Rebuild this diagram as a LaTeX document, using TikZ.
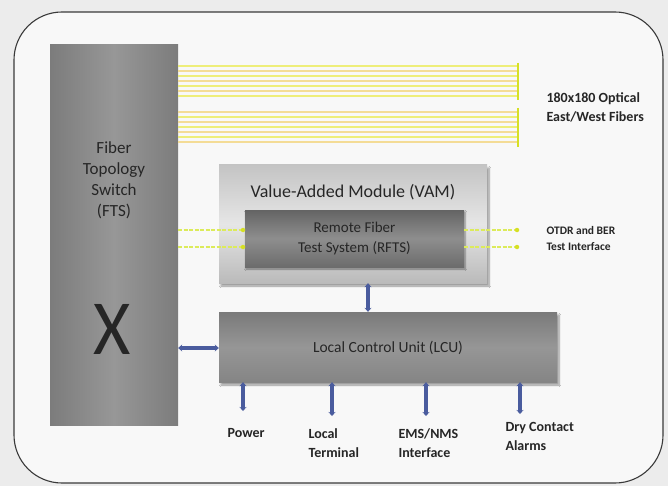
\documentclass[tikz,border=0pt]{standalone}
\usepackage{fontspec}
\setmainfont{Carlito}
\usetikzlibrary{arrows.meta,shadows,shadows.blur}
\definecolor{pagebg}{HTML}{ECECEC}
\definecolor{panelbg}{HTML}{F8F8F8}
\definecolor{frame}{HTML}{3A3A3A}
\definecolor{txt}{HTML}{262626}
\definecolor{linkblue}{HTML}{4A5C9E}
\definecolor{fiberA}{HTML}{EEEE7A}
\definecolor{fiberB}{HTML}{F4DC96}
\definecolor{fiberbar}{HTML}{D6E024}
\definecolor{testline}{HTML}{DCEB5A}
\definecolor{ftsedge}{HTML}{7C7C7C}
\definecolor{ftsmid}{HTML}{979797}
\definecolor{vamedge}{HTML}{C4C4C4}
\definecolor{vammid}{HTML}{E6E6E6}
\definecolor{rftsedge}{HTML}{646464}
\definecolor{rftsmid}{HTML}{8E8E8E}
\definecolor{lcutop}{HTML}{7A7A7A}
\definecolor{lcumid}{HTML}{969696}
\definecolor{lcubot}{HTML}{858585}
\tikzset{
  panelbox/.style={rectangle, draw=none, inner sep=0pt},
  boxshadow/.style={blur shadow={shadow blur steps=8, shadow xshift=2pt, shadow yshift=-3pt}},
  boxtext/.style={font=\fontsize{#1}{#1}\selectfont, text=txt, align=center},
  sidetext/.style={font=\bfseries\fontsize{#1}{#1}\selectfont, text=txt, align=left, anchor=west},
  bus/.style={line width=3.2pt, draw=linkblue, {Stealth[length=4pt,width=7pt]}-{Stealth[length=4pt,width=7pt]}},
  fiber/.style={line width=1.3pt},
  testlink/.style={draw=testline, line width=1.3pt, dash pattern=on 4pt off 1.5pt},
  tipdot/.style={circle, fill=fiberbar, inner sep=0pt, minimum size=4.5pt}
}
\begin{document}
\begin{tikzpicture}[x=1pt,y=-1pt]
\useasboundingbox (0,0) rectangle (668,486);
\fill[pagebg] (0,0) rectangle (668,486);
% outer panel
\draw[frame, line width=1.1pt, fill=panelbg, rounded corners=48pt] (14,12) rectangle (663,483);

% Fiber Topology Switch
\node[panelbox, minimum width=128pt, minimum height=380pt, left color=ftsedge, right color=ftsedge, middle color=ftsmid] (fts) at (114,235) {};
\node[boxtext=17] (ftslabel) at (114,180) {Fiber\\[4pt]Topology\\[4pt]Switch\\[4pt](FTS)};
\node[text=black!85, inner sep=0pt] (xsw) at (112,329) {\scalebox{0.92}[1]{\fontsize{78}{78}\selectfont X}};

% East/West optical fibers
\coordinate (fibend) at (518,0);
\foreach \y [count=\i] in {66,71,76,81,86,91,96, 112,117,122,127,132,137,142}{
  \ifodd\i \def\fibcol{fiberA}\else \def\fibcol{fiberB}\fi
  \draw[fiber, draw=\fibcol] (fts.east |- 0,\y) -- (fibend |- 0,\y);
}
\draw[fiberbar, line width=1.6pt] (518,63) -- (518,100);
\draw[fiberbar, line width=1.6pt] (518,108) -- (518,147);
\node[sidetext=14] (fiblabel) at (543,107) {180x180 Optical\\[5pt]East/West Fibers};

% Value-Added Module with RFTS inside
\node[panelbox, boxshadow, minimum width=268pt, minimum height=118pt, top color=vamedge, bottom color=vamedge!95!black, middle color=vammid] (vam) at (353,224) {};
\node[boxtext=18] (vamlabel) at (vam.north |- 0,192) {Value-Added Module (VAM)};
\node[panelbox, minimum width=219pt, minimum height=57pt, top color=rftsedge, bottom color=rftsedge!95!white, middle color=rftsmid, blur shadow={shadow blur steps=6, shadow xshift=1pt, shadow yshift=-2pt}] (rfts) at (354.5,238.5) {};
\node[boxtext=15] (rftslabel) at (rfts.center) {Remote Fiber\\[5pt]Test System (RFTS)};

% OTDR / BER test interface links
\foreach \y in {230,247}{
  \node[tipdot] (tl\y) at (243,\y) {};
  \node[tipdot] (tr\y) at (517,\y) {};
  \draw[testlink] (fts.east |- 0,\y) -- (tl\y);
  \draw[testlink] (rfts.east |- 0,\y) -- (tr\y);
}
\node[sidetext=11.5] (otdrlabel) at (543,238.5) {OTDR and BER\\[4pt]Test Interface};

% Local Control Unit
\node[panelbox, boxshadow, minimum width=338pt, minimum height=70pt, top color=lcutop, bottom color=lcubot, middle color=lcumid] (lcu) at (388,347) {};
\node[boxtext=15.5] (lculabel) at (388,348) {Local Control Unit (LCU)};

% control links
\draw[bus] (vam.south -| 368,0) -- (lcu.north -| 368,0);
\draw[bus] (lcu.west |- 0,348) -- (fts.east |- 0,348);

\foreach \x/\n/\e in {243/pw/411, 332/lt/416, 426/em/416, 520/dc/414}{
  \coordinate (\n end) at (\x,\e);
  \draw[bus] (lcu.south -| \x,0) -- (\n end);
}
\node[sidetext=14] (pwlabel) at (224,433) {Power};
\node[sidetext=14] (ltlabel) at (305,443) {Local\\[5pt]Terminal};
\node[sidetext=14] (emlabel) at (395,443) {EMS/NMS\\[5pt]Interface};
\node[sidetext=14] (dclabel) at (502,436) {Dry Contact\\[5pt]Alarms};
\end{tikzpicture}
\end{document}
